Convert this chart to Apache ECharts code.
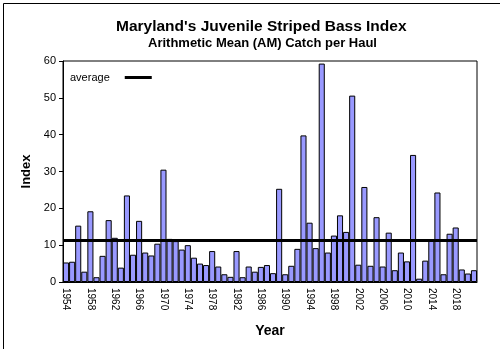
<!DOCTYPE html>
<html>
<head>
<meta charset="utf-8">
<script src="https://cdn.jsdelivr.net/npm/echarts@6/dist/echarts.min.js"></script>
<style>
html,body{margin:0;padding:0;background:#fff;}
#chart{width:500px;height:349px;}
</style>
</head>
<body>
<div id="chart"></div>
<script>
const years = [];
for (let y = 1954; y <= 2021; y++) years.push(String(y));
const indexValues = [
  5.3, 5.5, 15.3, 2.8, 19.2, 1.3, 7.1, 16.8, 12.0, 3.9,
  23.5, 7.4, 16.6, 8.0, 7.2, 10.4, 30.5, 11.7, 11.1, 8.8,
  10.0, 6.6, 5.0, 4.6, 8.4, 4.2, 2.1, 1.4, 8.4, 1.3,
  4.2, 2.8, 4.1, 4.6, 2.4, 25.3, 2.1, 4.4, 9.0, 39.8,
  16.1, 9.2, 59.3, 8.0, 12.6, 18.1, 13.6, 50.6, 4.7, 25.8,
  4.4, 17.6, 4.2, 13.4, 3.2, 8.0, 5.6, 34.5, 0.9, 5.8,
  11.3, 24.3, 2.1, 13.1, 14.8, 3.4, 2.3, 3.2
];
const averageValue = 11.3;
const yTicks = [0, 10, 20, 30, 40, 50, 60];

const chart = echarts.init(document.getElementById('chart'), null, {renderer: 'canvas'});
const fontFam = '"Liberation Sans", Arial, sans-serif';
chart.setOption({
  animation: false,
  backgroundColor: '#fff',
  textStyle: {fontFamily: fontFam},
  title: [
    {text: "Maryland's Juvenile Striped Bass Index", left: 111, top: 14,
     textStyle: {fontSize: 15.5, fontWeight: 'bold', color: '#000', fontFamily: fontFam}},
    {text: 'Arithmetic Mean (AM) Catch per Haul', left: 143, top: 32,
     textStyle: {fontSize: 13, fontWeight: 'bold', color: '#000', fontFamily: fontFam}}
  ],
  graphic: [{
    type: 'rect', left: 1, top: 1,
    shape: {width: 497, height: 346},
    style: {fill: 'none', stroke: '#000', lineWidth: 1}, silent: true
  }],
  legend: {
    left: 65, top: 67,
    data: [{name: 'average', icon: 'rect'}],
    itemWidth: 27, itemHeight: 3, align: 'right', itemGap: 8,
    textStyle: {fontSize: 11, color: '#000', fontFamily: fontFam, padding: [0, 10, 0, 0]}
  },
  grid: {left: 63, right: 23, top: 61, bottom: 67, show: true, borderColor: '#000', borderWidth: 1},
  xAxis: {
    type: 'category', data: years, boundaryGap: true,
    name: 'Year', nameLocation: 'middle', nameGap: 42,
    nameTextStyle: {fontSize: 14, fontWeight: 'bold', color: '#000', fontFamily: fontFam},
    axisLine: {lineStyle: {color: '#000', width: 1}},
    axisTick: {interval: 0, length: 5, lineStyle: {color: '#000'}},
    axisLabel: {interval: 3, rotate: -90, fontSize: 10, color: '#000', margin: 6, fontFamily: fontFam}
  },
  yAxis: {
    type: 'value', min: 0, max: 60, interval: 10,
    name: 'Index', nameLocation: 'middle', nameGap: 27,
    nameTextStyle: {fontSize: 13, fontWeight: 'bold', color: '#000', fontFamily: fontFam},
    axisLine: {show: true, lineStyle: {color: '#000'}},
    axisTick: {show: true, length: 4, lineStyle: {color: '#000'}},
    splitLine: {show: false},
    axisLabel: {fontSize: 11, color: '#000', margin: 7, fontFamily: fontFam,
      formatter: v => yTicks.includes(v) ? String(v) : ''}
  },
  series: [
    {
      name: 'Index', type: 'bar', data: indexValues,
      barCategoryGap: '0%',
      itemStyle: {color: '#9999ff', borderColor: '#000', borderWidth: 1}
    },
    {
      name: 'average', type: 'line', data: [],
      itemStyle: {color: '#000'}, lineStyle: {color: '#000', width: 3},
      markLine: {
        silent: true, symbol: 'none', label: {show: false},
        lineStyle: {color: '#000', width: 3, type: 'solid'},
        data: [{yAxis: averageValue}]
      }
    }
  ]
});
</script>
</body>
</html>
